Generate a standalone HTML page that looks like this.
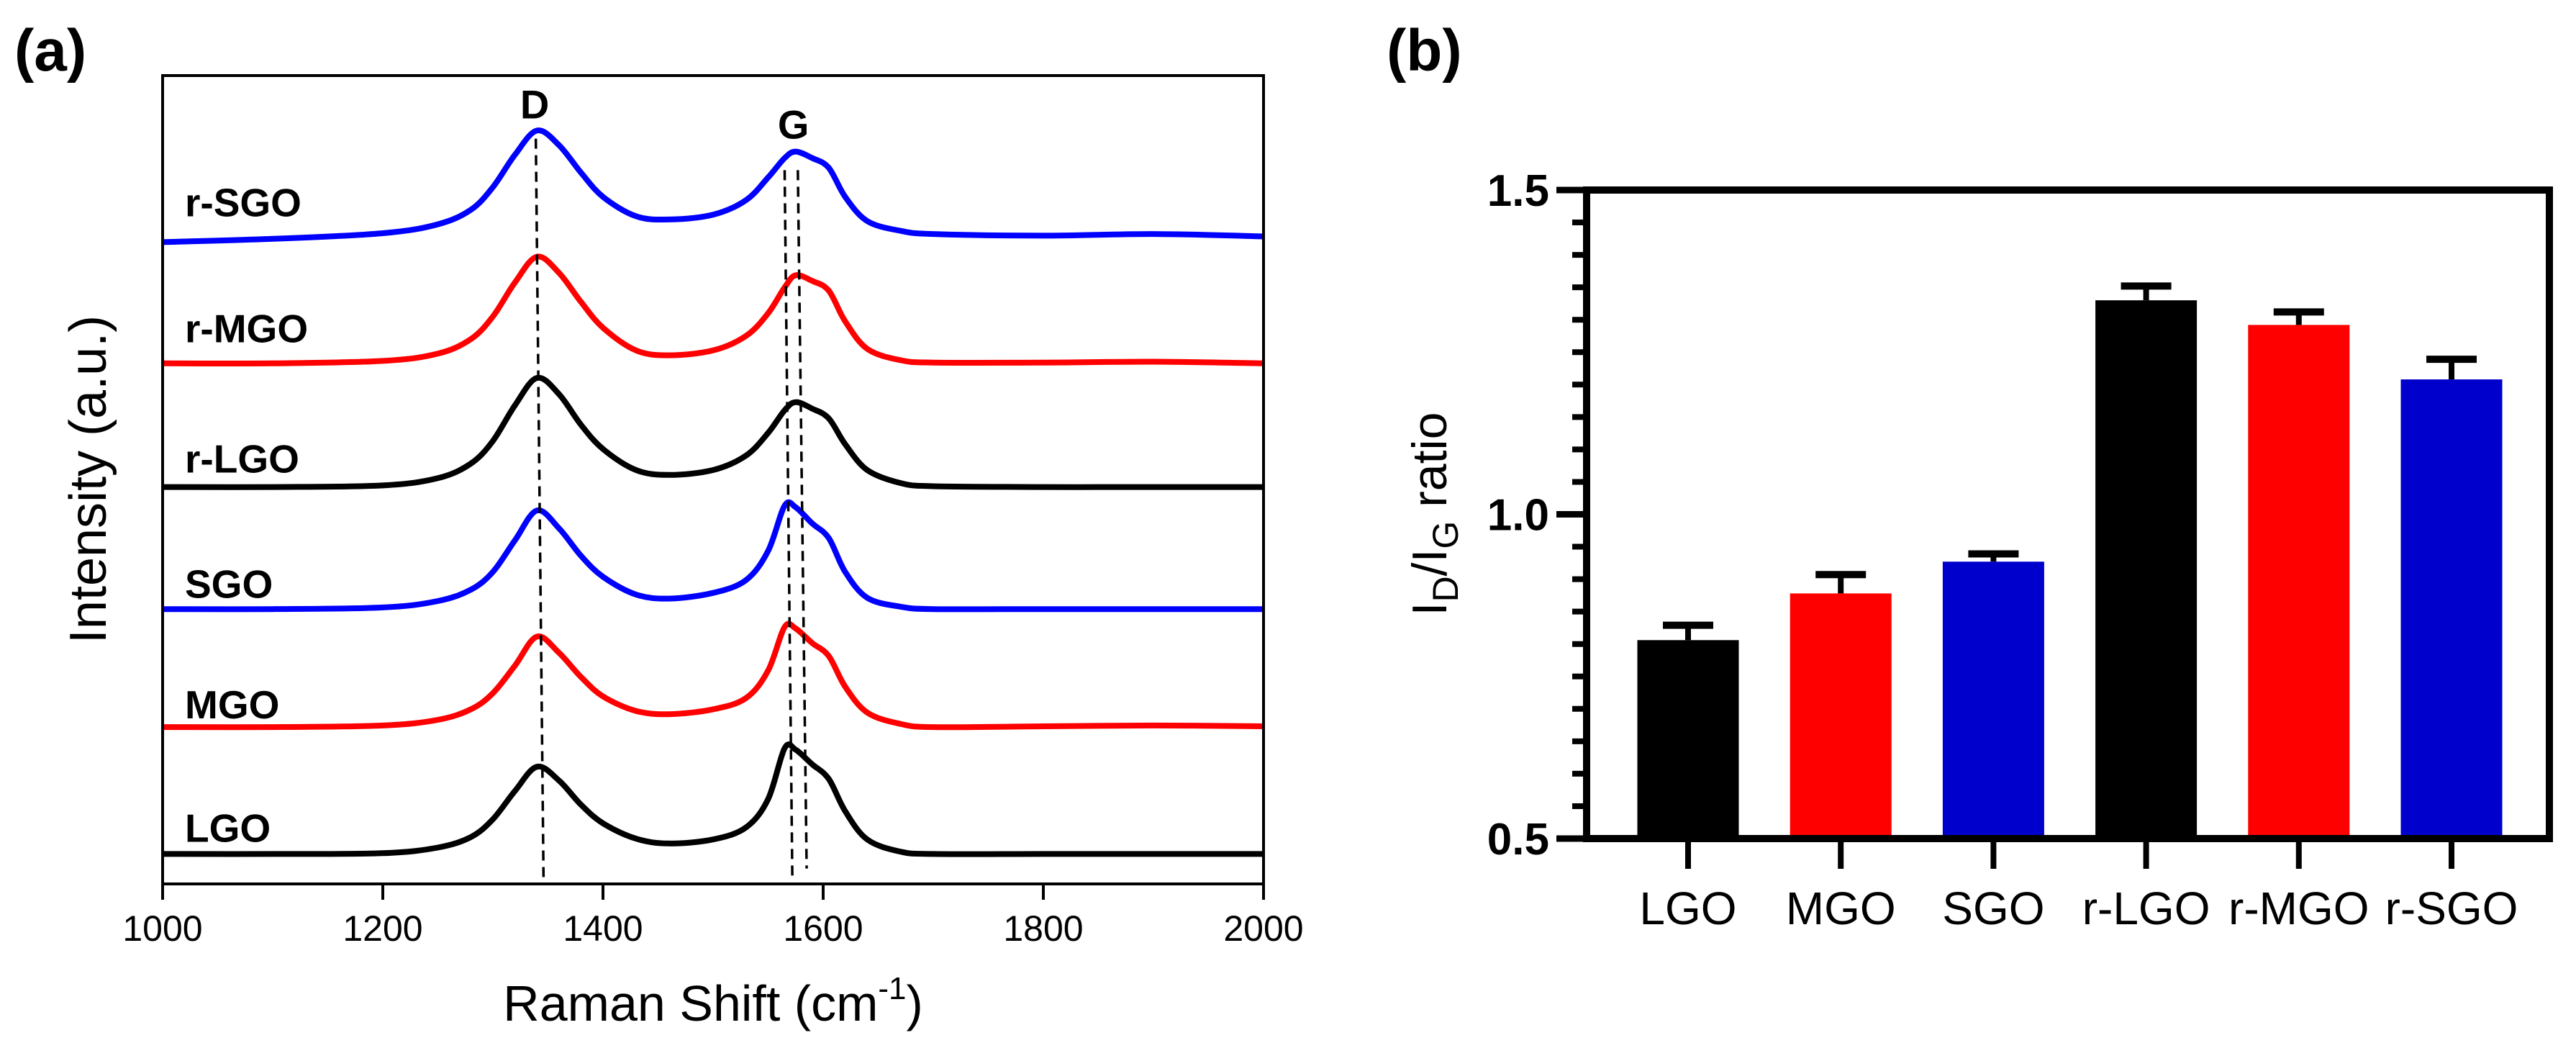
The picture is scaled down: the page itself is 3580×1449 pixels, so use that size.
<!DOCTYPE html>
<html><head><meta charset="utf-8"><style>
html,body{margin:0;padding:0;background:#fff;}
svg{display:block;font-family:"Liberation Sans",Arial,sans-serif;}
</style></head><body>
<svg id="fig" width="3580" height="1449" viewBox="0 0 3580 1449" xmlns="http://www.w3.org/2000/svg">
<rect x="0" y="0" width="3580" height="1449" fill="#fff"/>
<text x="20" y="98" font-size="82" font-weight="bold">(a)</text>
<text x="1927" y="98" font-size="82" font-weight="bold">(b)</text>
<g id="pa"></g>
<g id="pb"></g>
</svg>
<script>
// ---- Panel (a) data ----
const ramanShift = [1000,1100,1200,1250,1280,1300,1320,1340,1360,1380,1400,1430,1460,1500,1530,1550,1565,1575,1590,1605,1620,1640,1670,1700,1800,1900,2000];
const sampleNames = ["LGO","MGO","SGO","r-LGO","r-MGO","r-SGO"];
const sampleColors = ["#000000","#ff0000","#0000ff","#000000","#ff0000","#0000ff"];
const intLGO  = [3.7,3.7,3.8,4.5,5.8,8.0,11.5,14.5,12.8,9.8,7.5,5.6,5.0,5.5,7.0,10.5,16.8,16.6,14.8,13.0,9.0,5.5,4.0,3.7,3.7,3.7,3.7];
const intMGO  = [19.4,19.4,19.6,20.3,21.6,23.6,27.0,30.6,28.6,25.6,23.2,21.4,21.0,21.6,23.0,26.4,31.8,31.6,29.8,28.2,24.4,21.2,19.8,19.4,19.5,19.6,19.5];
const intSGO  = [34.0,34.0,34.2,35.0,36.4,38.6,42.5,46.2,44.0,40.6,38.0,35.8,35.3,36.0,37.6,41.2,46.8,46.6,44.6,42.8,38.6,35.4,34.3,34.0,34.0,34.0,34.0];
const intRLGO = [49.1,49.1,49.3,50.2,52.0,54.8,59.2,62.6,60.6,56.8,53.8,51.2,50.6,51.2,53.0,55.8,58.6,59.6,58.8,57.6,54.4,51.2,49.6,49.2,49.1,49.1,49.1];
const intRMGO = [64.4,64.4,64.7,65.6,67.4,70.2,74.4,77.6,75.6,72.0,68.8,66.0,65.4,66.0,67.8,70.6,73.8,75.3,74.6,73.4,69.6,66.2,64.8,64.5,64.5,64.6,64.4];
const intRSGO = [79.4,79.8,80.5,81.6,83.4,86.2,90.2,93.2,91.4,88.0,85.0,82.6,82.2,82.8,84.6,87.4,89.8,90.6,89.8,88.6,85.0,82.0,80.8,80.4,80.2,80.4,80.1];
const labelIntensity = [5.2,20.5,35.4,50.9,67.0,82.6];
const xTicks = [1000,1200,1400,1600,1800,2000];
const dashTop = [[1339,92.2],[1565,88.3],[1577,88.3]];
const dashBottom = [[1346,0.5],[1572,0.7],[1585,1.9]];
const peakLabels = ["D","G"];
const peakLabelX = [1338,1573];
const peakLabelY = [94.7,92.2];

// ---- Panel (b) data ----
const categories = ["LGO","MGO","SGO","r-LGO","r-MGO","r-SGO"];
const ratioValues = [0.806,0.878,0.927,1.330,1.292,1.208];
const ratioErrors = [0.023,0.029,0.012,0.022,0.020,0.031];
const barColors = ["#000000","#ff0000","#0000cc","#000000","#ff0000","#0000cc"];
const yMajorTicks = [0.5,1.0,1.5];
const yMinorTicks = [0.55,0.6,0.65,0.7,0.75,0.8,0.85,0.9,0.95,1.05,1.1,1.15,1.2,1.25,1.3,1.35,1.4,1.45];

const NS="http://www.w3.org/2000/svg";
function mk(tag,attrs,parent){const e=document.createElementNS(NS,tag);for(const k in attrs)e.setAttribute(k,attrs[k]);parent.appendChild(e);return e;}

// Panel a
const pa=document.getElementById('pa');
const AL=226,AR=1756,AT=105,AB=1228;
const xa=v=>AL+(v-1000)*(AR-AL)/1000;
const ya=u=>AB-u*(AB-AT)/100;
const series=[intLGO,intMGO,intSGO,intRLGO,intRMGO,intRSGO];
function smoothPath(pts){
  let d="M"+pts[0][0].toFixed(1)+","+pts[0][1].toFixed(1);
  for(let i=0;i<pts.length-1;i++){
    const p0=pts[Math.max(0,i-1)],p1=pts[i],p2=pts[i+1],p3=pts[Math.min(pts.length-1,i+2)];
    const c1=[p1[0]+(p2[0]-p0[0])/6,p1[1]+(p2[1]-p0[1])/6];
    const c2=[p2[0]-(p3[0]-p1[0])/6,p2[1]-(p3[1]-p1[1])/6];
    d+=" C"+c1[0].toFixed(1)+","+c1[1].toFixed(1)+" "+c2[0].toFixed(1)+","+c2[1].toFixed(1)+" "+p2[0].toFixed(1)+","+p2[1].toFixed(1);
  }
  return d;
}
series.forEach((s,i)=>{
  const pts=ramanShift.map((x,j)=>[xa(x),ya(s[j])]);
  const p=mk('path',{d:smoothPath(pts),fill:'none',stroke:sampleColors[i],'stroke-width':8,'stroke-linejoin':'round'},pa);
  
  
  const t=mk('text',{x:257,y:ya(labelIntensity[i]),'font-size':55,'font-weight':'bold'},pa);
  t.textContent=sampleNames[i];
  
  
});
dashTop.forEach((d,i)=>{
  const l=mk('line',{x1:xa(d[0]),y1:ya(d[1]),x2:xa(dashBottom[i][0]),y2:ya(dashBottom[i][1]),stroke:'#000','stroke-width':3.5,'stroke-dasharray':'14 9'},pa);
  
  
});
peakLabels.forEach((p,i)=>{
  const t=mk('text',{x:xa(peakLabelX[i]),y:ya(peakLabelY[i]),'font-size':56,'font-weight':'bold','text-anchor':'middle'},pa);
  t.textContent=p;
  
  
});
const boxA=mk('rect',{x:AL,y:AT,width:AR-AL,height:AB-AT,fill:'none',stroke:'#000','stroke-width':4},pa);


xTicks.forEach(v=>{
  const l=mk('line',{x1:xa(v),y1:AB,x2:xa(v),y2:AB+22,stroke:'#000','stroke-width':4},pa);
  
  
  const t=mk('text',{x:xa(v),y:1307,'font-size':50,'text-anchor':'middle'},pa);
  t.textContent=v;
  
  
});
const xt=mk('text',{x:(AL+AR)/2,y:1418,'font-size':70,'text-anchor':'middle'},pa);
xt.innerHTML='Raman Shift (cm<tspan font-size="44" dy="-30">-1</tspan><tspan dy="30">)</tspan>';


const yt=mk('text',{x:0,y:0,'font-size':72,'text-anchor':'middle',transform:'translate(147,666) rotate(-90)'},pa);
yt.textContent='Intensity (a.u.)';



// Panel b
const pb=document.getElementById('pb');
const BL=2205,BR=3543,BT=264,BB=1165;
const yb=v=>BB-(v-0.5)*(BB-BT)/1.0;
const xb=i=>2346+i*212.2;
const BW=141;
categories.forEach((c,i)=>{
  const r=mk('rect',{x:xb(i)-BW/2,y:yb(ratioValues[i]),width:BW,height:BB-yb(ratioValues[i]),fill:barColors[i]},pb);
  
  
  const top=yb(ratioValues[i]+ratioErrors[i]);
  const s=mk('line',{x1:xb(i),y1:yb(ratioValues[i]),x2:xb(i),y2:top,stroke:'#000','stroke-width':8},pb);
  
  
  const cap=mk('line',{x1:xb(i)-35,y1:top,x2:xb(i)+35,y2:top,stroke:'#000','stroke-width':10},pb);
  
  
  const tk=mk('line',{x1:xb(i),y1:BB,x2:xb(i),y2:BB+42,stroke:'#000','stroke-width':8},pb);
  
  
  const t=mk('text',{x:xb(i),y:1284,'font-size':64,'text-anchor':'middle'},pb);
  t.textContent=c;
  
  
});
yMinorTicks.forEach(v=>{
  const l=mk('line',{x1:BL-20,y1:yb(v),x2:BL,y2:yb(v),stroke:'#000','stroke-width':8},pb);
  
  
});
yMajorTicks.forEach(v=>{
  const l=mk('line',{x1:BL-42,y1:yb(v),x2:BL,y2:yb(v),stroke:'#000','stroke-width':9},pb);
  
  
  const t=mk('text',{x:2153,y:yb(v)+22,'font-size':62,'font-weight':'bold','text-anchor':'end'},pb);
  t.textContent=v.toFixed(1);
  
  
});
const fr=mk('path',{d:`M${BL},${BB} L${BL},${BT} L${BR},${BT} L${BR},${BB} Z`,fill:'none',stroke:'#000','stroke-width':10},pb);


const ybt=mk('text',{x:0,y:0,'font-size':68,'text-anchor':'middle',transform:'translate(2010,714) rotate(-90)'},pb);
ybt.innerHTML='I<tspan font-size="50" dy="16">D</tspan><tspan dy="-16">/I</tspan><tspan font-size="50" dy="16">G</tspan><tspan dy="-16"> ratio</tspan>';


</script>
</body></html>
